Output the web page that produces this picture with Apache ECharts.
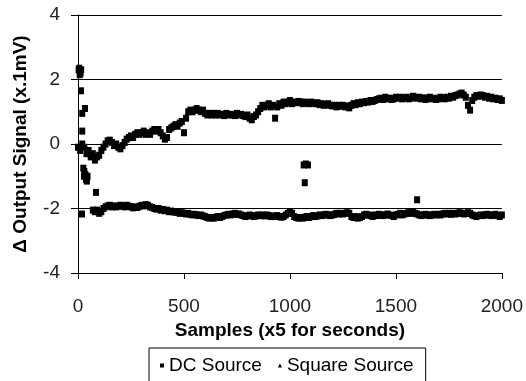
<!DOCTYPE html>
<html>
<head>
<meta charset="utf-8">
<script src="https://cdn.jsdelivr.net/npm/echarts@6/dist/echarts.min.js"></script>
<style>
html,body{margin:0;padding:0;background:#fff;}
#chart{width:526px;height:381px;}
</style>
</head>
<body>
<div id="chart"></div>
<script>
// x: samples, every 10 samples from 0 to 2000
const sampleStep = 10;
const xTicks = [0, 500, 1000, 1500, 2000];
const yTicks = [-4, -2, 0, 2, 4];

const dcValues = [
-0.1,-0.2,0.0,-0.1,-0.3,-0.2,-0.4,-0.3,-0.5,-0.4,
-0.35,-0.2,-0.1,0.0,0.1,0.12,0.05,-0.05,0.0,-0.1,
-0.15,-0.05,0.05,0.15,0.2,0.25,0.2,0.3,0.35,0.3,
0.35,0.4,0.3,0.35,0.3,0.4,0.45,0.4,0.45,0.35,
0.25,0.15,0.2,0.45,0.5,0.55,0.6,0.55,0.65,0.7,
0.35,0.8,1.0,1.05,1.0,1.05,1.1,1.05,1.0,1.05,
0.95,0.9,0.95,0.9,0.95,0.9,0.95,0.9,0.92,0.88,
0.95,0.9,0.92,0.9,0.88,0.95,0.9,0.92,0.88,0.85,
0.9,0.8,0.75,0.85,0.9,1.0,1.1,1.2,1.15,1.2,
1.25,1.15,1.2,0.8,1.15,1.25,1.2,1.3,1.25,1.3,
1.35,1.25,1.3,1.28,1.32,1.3,1.25,1.3,1.28,1.25,
1.3,1.27,1.25,1.28,1.22,1.25,1.2,1.22,1.25,1.2,
1.18,1.2,1.15,1.2,1.17,1.2,1.15,1.18,1.12,1.2,
1.25,1.22,1.28,1.25,1.3,1.28,1.32,1.3,1.35,1.32,
1.35,1.38,1.4,1.42,1.38,1.45,1.4,1.42,1.38,1.4,
1.45,1.42,1.45,1.4,1.43,1.45,1.4,1.42,1.48,1.45,
1.42,1.45,1.4,1.43,1.38,1.42,1.45,1.4,1.42,1.38,
1.4,1.45,1.42,1.4,1.45,1.42,1.48,1.45,1.5,1.52,
1.55,1.58,1.52,1.45,1.2,1.05,1.35,1.45,1.5,1.48,
1.52,1.5,1.45,1.48,1.42,1.45,1.4,1.42,1.38,1.4,
1.35
];

const squareValues = [
null,null,null,null,null,null,null,-2.05,-2.1,-2.05,
-2.15,-2.1,-2.0,-1.95,-1.92,-1.9,-1.95,-1.92,-1.95,-1.93,
-1.9,-1.92,-1.95,-1.9,-1.93,-1.95,-1.98,-1.95,-1.97,-1.93,
-1.9,-1.92,-1.88,-1.9,-1.95,-1.97,-2.0,-2.02,-2.0,-2.05,
-2.03,-2.07,-2.05,-2.1,-2.08,-2.1,-2.12,-2.1,-2.15,-2.13,
-2.15,-2.17,-2.15,-2.18,-2.2,-2.18,-2.2,-2.22,-2.2,-2.23,
-2.25,-2.28,-2.3,-2.28,-2.3,-2.27,-2.25,-2.28,-2.25,-2.22,
-2.2,-2.18,-2.2,-2.17,-2.15,-2.18,-2.17,-2.2,-2.22,-2.25,
-2.23,-2.2,-2.22,-2.25,-2.23,-2.2,-2.22,-2.2,-2.23,-2.2,
-2.22,-2.25,-2.23,-2.25,-2.22,-2.25,-2.27,-2.25,-2.2,-2.15,
-2.1,-2.15,-2.25,-2.28,-2.3,-2.28,-2.3,-2.27,-2.25,-2.28,
-2.25,-2.22,-2.25,-2.23,-2.2,-2.22,-2.2,-2.18,-2.2,-2.22,
-2.2,-2.18,-2.15,-2.17,-2.15,-2.17,-2.15,-2.13,-2.15,-2.25,
-2.28,-2.25,-2.3,-2.28,-2.25,-2.2,-2.18,-2.2,-2.22,-2.25,
-2.2,-2.22,-2.18,-2.2,-2.22,-2.2,-2.17,-2.2,-2.22,-2.25,
-2.2,-2.18,-2.15,-2.2,-2.17,-2.15,-2.13,-2.15,-2.12,-2.15,
-2.17,-2.2,-2.22,-2.2,-2.18,-2.2,-2.22,-2.2,-2.18,-2.2,
-2.18,-2.2,-2.17,-2.15,-2.17,-2.15,-2.18,-2.15,-2.17,-2.15,
-2.13,-2.15,-2.17,-2.15,-2.13,-2.15,-2.2,-2.22,-2.25,-2.22,
-2.2,-2.22,-2.2,-2.18,-2.2,-2.22,-2.2,-2.18,-2.22,-2.25,
-2.2
];

// isolated transient points of the square source
const squareOutlierSamples = [3, 6, 9, 12, 15, 8, 14, 33, 20, 20, 25, 30, 28, 35, 38, 42, 45, 85, 19, 1065, 1075, 1085, 1070, 1600];
const squareOutlierValues  = [2.3, 2.35, 2.25, 2.2, 2.3, 2.15, 1.65, 1.1, 0.95, 0.4, -0.75, -0.85, -1.0, -0.95, -1.1, -1.15, -1.0, -1.5, -2.17, -0.65, -0.62, -0.65, -1.2, -1.73];

const dcData = dcValues.map((v, i) => [i * sampleStep, v]);
const squareData = squareValues
  .map((v, i) => [i * sampleStep, v])
  .filter(p => p[1] !== null)
  .concat(squareOutlierSamples.map((s, i) => [s, squareOutlierValues[i]]));

const chart = echarts.init(document.getElementById('chart'), null, {renderer: 'canvas'});
const FONT = 'Liberation Sans, Arial, sans-serif';

chart.setOption({
  animation: false,
  backgroundColor: '#ffffff',
  grid: {left: 78, right: 23, top: 15, bottom: 108, containLabel: false},
  xAxis: {
    type: 'value',
    min: xTicks[0], max: xTicks[xTicks.length - 1], interval: 500,
    name: 'Samples (x5 for seconds)',
    nameLocation: 'middle',
    nameGap: 41,
    nameTextStyle: {fontFamily: FONT, fontSize: 19, fontWeight: 'bold', color: '#000'},
    axisLine: {show: true, onZero: false, lineStyle: {color: '#000', width: 1}},
    axisTick: {show: true, inside: false, length: 6, lineStyle: {color: '#000'}},
    axisLabel: {fontFamily: FONT, fontSize: 19, color: '#222', margin: 24, formatter: v => String(v)},
    splitLine: {show: false}
  },
  yAxis: {
    type: 'value',
    min: yTicks[0], max: yTicks[yTicks.length - 1], interval: 2,
    name: 'Δ Output Signal (x.1mV)',
    nameLocation: 'middle',
    nameGap: 48,
    nameTextStyle: {fontFamily: FONT, fontSize: 19, fontWeight: 'bold', color: '#000'},
    axisLine: {show: true, onZero: false, lineStyle: {color: '#000', width: 1}},
    axisTick: {show: true, inside: false, length: 7, lineStyle: {color: '#000'}},
    axisLabel: {fontFamily: FONT, fontSize: 19, color: '#222', margin: 18, formatter: v => String(v)},
    splitLine: {show: true, lineStyle: {color: '#000', width: 1}}
  },
  legend: {
    left: 149,
    top: 348,
    orient: 'horizontal',
    borderColor: '#000',
    borderWidth: 1,
    padding: [8, 12, 8, 11],
    itemWidth: 4,
    itemHeight: 4,
    itemGap: 16,
    textStyle: {fontFamily: FONT, fontSize: 19, color: '#000'},
    data: [
      {name: 'DC Source', icon: 'rect'},
      {name: 'Square Source', icon: 'triangle'}
    ]
  },
  series: [
    {
      name: 'DC Source',
      type: 'scatter',
      symbol: 'rect',
      symbolSize: [6, 7],
      itemStyle: {color: '#000', opacity: 1},
      data: dcData
    },
    {
      name: 'Square Source',
      type: 'scatter',
      symbol: 'rect',
      symbolSize: [6, 7],
      itemStyle: {color: '#000', opacity: 1},
      data: squareData
    }
  ]
});
</script>
</body>
</html>
